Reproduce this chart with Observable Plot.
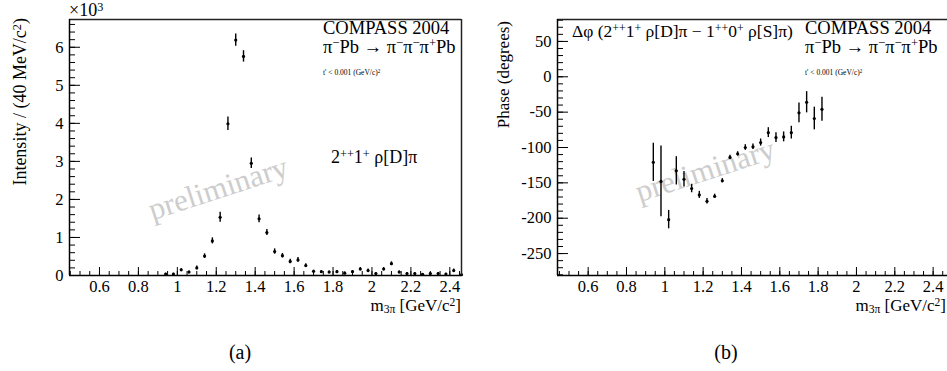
<!DOCTYPE html>
<html><head><meta charset="utf-8">
<script src="https://cdn.jsdelivr.net/npm/d3@7"></script>
<script src="https://cdn.jsdelivr.net/npm/@observablehq/plot@0.6"></script>
<style>
body{margin:0;background:#fff;}
#wrap{position:relative;width:947px;height:371px;overflow:hidden;font-family:'Liberation Serif','Times New Roman',serif;color:#000;background:#fff;}
#wrap svg{position:absolute;top:0;}
#wrap svg text{font-family:'Liberation Serif','Times New Roman',serif;}
.ann{position:absolute;white-space:nowrap;line-height:1;}
.ann sup{font-size:0.68em;vertical-align:0.45em;line-height:0;}
.ann sub{font-size:0.68em;vertical-align:-0.2em;line-height:0;}
.wm{position:absolute;white-space:nowrap;line-height:1;color:#cdcdcd;font-size:31px;transform:translate(-50%,-50%) rotate(-18deg);}
.ytitle{position:absolute;white-space:nowrap;line-height:1;transform-origin:0 0;transform:rotate(-90deg) translateX(-100%);}
</style></head><body><div id="wrap"></div>
<script>
// ---- data: panel (a) intensity, in units of 10^3 per 40 MeV/c^2 ----
const massA = [0.94,0.98,1.02,1.06,1.10,1.14,1.18,1.22,1.26,1.30,1.34,1.38,1.42,1.46,1.50,1.54,1.58,1.62,1.66,1.70,1.74,1.78,1.82,1.86,1.90,1.94,1.98,2.02,2.06,2.10,2.14,2.18,2.22,2.26,2.30,2.34,2.38,2.42,2.46];
const intensity = [0.04,0.04,0.15,0.09,0.20,0.51,0.91,1.53,3.99,6.19,5.76,2.95,1.49,1.13,0.63,0.52,0.37,0.41,0.26,0.11,0.10,0.09,0.10,0.06,0.10,0.17,0.13,0.05,0.17,0.31,0.09,0.05,0.05,0.03,0.05,0.05,0.04,0.13,0.02];
const intensityErr = [0.02,0.02,0.03,0.03,0.05,0.06,0.08,0.13,0.18,0.16,0.15,0.14,0.10,0.08,0.07,0.06,0.06,0.06,0.05,0.03,0.03,0.03,0.03,0.03,0.03,0.04,0.04,0.03,0.04,0.05,0.03,0.03,0.03,0.02,0.03,0.03,0.02,0.04,0.02];
// ---- data: panel (b) relative phase, degrees ----
const massB = [0.94,0.98,1.02,1.06,1.10,1.14,1.18,1.22,1.26,1.30,1.34,1.38,1.42,1.46,1.50,1.54,1.58,1.62,1.66,1.70,1.74,1.78,1.82];
const phase = [-121,-148,-202,-133,-145,-158,-167,-176,-169,-147,-114,-109,-100,-99,-93,-79,-86,-85,-79,-51,-36,-59,-46];
const phaseErr = [27,50,13,20,11,6,5,4,3,3,3,3,4,4,5,7,7,7,9,14,15,16,17];
// ---- axis ticks ----
const xTicks = [0.6,0.8,1,1.2,1.4,1.6,1.8,2,2.2,2.4];
const yTicksA = [0,1,2,3,4,5,6];
const yTicksB = [-250,-200,-150,-100,-50,0,50];

const wrap = document.getElementById("wrap");
const serif = "'Liberation Serif', 'Times New Roman', serif";
const xMinor = d3.range(0.45, 2.4751, 0.05).map(v => Math.round(v*100)/100);

function panel({left, width, height, mL, mR, mT, mB, xDom, yDom, xs, ys, es, yMaj, yMin, yFmt, rightBorder}) {
  const fw = width - mL - mR, fh = height - mT - mB;
  const rows = xs.map((x, i) => ({x, y: ys[i], lo: ys[i] - es[i], hi: ys[i] + es[i]}));
  const frameCol = "#222";
  const marks = [
    Plot.ruleY(yMin, {y: d => d, insetRight: fw - 6, stroke: "#000"}),
    Plot.ruleY(yMaj, {y: d => d, insetRight: fw - 11, stroke: "#000"}),
    Plot.ruleX(xMinor.filter(v => v > xDom[0] && v < xDom[1]), {x: d => d, insetTop: fh - 4, stroke: "#000"}),
    Plot.ruleX(xTicks, {x: d => d, insetTop: fh - 8, stroke: "#000"}),
    Plot.ruleY([yDom[1]], {stroke: frameCol, strokeWidth: 1.5}),
    Plot.ruleY([yDom[0]], {stroke: "#000", strokeWidth: 1.5}),
    Plot.ruleX([xDom[0]], {stroke: "#000", strokeWidth: 1.5}),
    Plot.axisX({ticks: xTicks, tickSize: 0, tickPadding: 5, tickFormat: d => String(Math.round(d*10)/10), label: null, fontSize: 16.5, fontFamily: serif}),
    Plot.axisY({ticks: yMaj, tickSize: 0, tickPadding: 6, tickFormat: yFmt, label: null, fontSize: 16.5, fontFamily: serif}),
    Plot.ruleX(rows, {x: "x", y1: "lo", y2: "hi", stroke: "#000", strokeWidth: 1.4}),
    Plot.dot(rows, {x: "x", y: "y", r: 1.6, fill: "#000", stroke: "none"})
  ];
  if (rightBorder) marks.push(Plot.ruleX([xDom[1]], {stroke: frameCol, strokeWidth: 1.5}));
  const svg = Plot.plot({
    width, height, marginLeft: mL, marginRight: mR, marginTop: mT, marginBottom: mB,
    x: {domain: xDom}, y: {domain: yDom},
    style: {fontFamily: serif, fontSize: "16px", color: "#000", background: "transparent", overflow: "visible"},
    marks
  });
  svg.style.left = left + "px";
  wrap.appendChild(svg);
}

panel({left: 0, width: 470, height: 310, mL: 69, mR: 9, mT: 19, mB: 35,
  xDom: [0.446, 2.46], yDom: [0, 6.73], xs: massA, ys: intensity, es: intensityErr,
  yMaj: yTicksA, yMin: d3.range(0, 6.61, 0.2), yFmt: d => String(d), rightBorder: true});

panel({left: 470, width: 477, height: 310, mL: 87, mR: 0, mT: 19, mB: 35,
  xDom: [0.44, 2.475], yDom: [-281, 81], xs: massB, ys: phase, es: phaseErr,
  yMaj: yTicksB, yMin: d3.range(-280, 81, 10), yFmt: d => String(d), rightBorder: false});

// ---- text annotations ----
function ann(html, x, baseline, fs, extra) {
  const d = document.createElement("div");
  d.className = "ann";
  d.innerHTML = html;
  d.style.fontSize = fs + "px";
  d.style.top = (baseline - 0.84 * fs) + "px";
  if (extra && extra.right !== undefined) d.style.right = (947 - extra.right) + "px";
  else if (extra && extra.center) { d.style.left = x + "px"; d.style.transform = "translateX(-50%)"; }
  else d.style.left = x + "px";
  wrap.appendChild(d);
}
ann("×10<sup>3</sup>", 69, 16, 18);
ann("COMPASS 2004", 323, 35, 18.5);
ann("π<sup>−</sup>Pb → π<sup>−</sup>π<sup>−</sup>π<sup>+</sup>Pb", 323, 54, 18.5);
ann("t' &lt; 0.001 (GeV/c)<sup>2</sup>", 323, 75, 7.5);
ann("2<sup>++</sup>1<sup>+</sup> ρ[D]π", 331, 163, 18);
ann("Δφ (2<sup>++</sup>1<sup>+</sup> ρ[D]π − 1<sup>++</sup>0<sup>+</sup> ρ[S]π)", 572, 38, 17.5);
ann("COMPASS 2004", 805, 35, 18.5);
ann("π<sup>−</sup>Pb → π<sup>−</sup>π<sup>−</sup>π<sup>+</sup>Pb", 805, 54, 18.5);
ann("t' &lt; 0.001 (GeV/c)<sup>2</sup>", 805, 75, 7.5);
ann("m<sub>3π</sub> [GeV/c<sup>2</sup>]", 0, 311, 17, {right: 461});
ann("m<sub>3π</sub> [GeV/c<sup>2</sup>]", 0, 311, 17, {right: 946});
ann("(a)", 240, 359, 20, {center: true});
ann("(b)", 726, 359, 20, {center: true});

function ytitle(html, x, top, fs) {
  const d = document.createElement("div");
  d.className = "ytitle";
  d.innerHTML = html;
  d.style.fontSize = fs + "px";
  d.style.left = x + "px";
  d.style.top = top + "px";
  wrap.appendChild(d);
}
ytitle("Intensity / (40 MeV/c<sup style='font-size:0.68em;vertical-align:0.45em;line-height:0'>2</sup>)", 11, 18, 18);
ytitle("Phase (degrees)", 495, 21, 17);

function wm(x, y) {
  const d = document.createElement("div");
  d.className = "wm";
  d.textContent = "preliminary";
  d.style.left = x + "px";
  d.style.top = y + "px";
  wrap.insertBefore(d, wrap.firstChild);
}
wm(218, 188);
wm(705, 170);
</script></body></html>
